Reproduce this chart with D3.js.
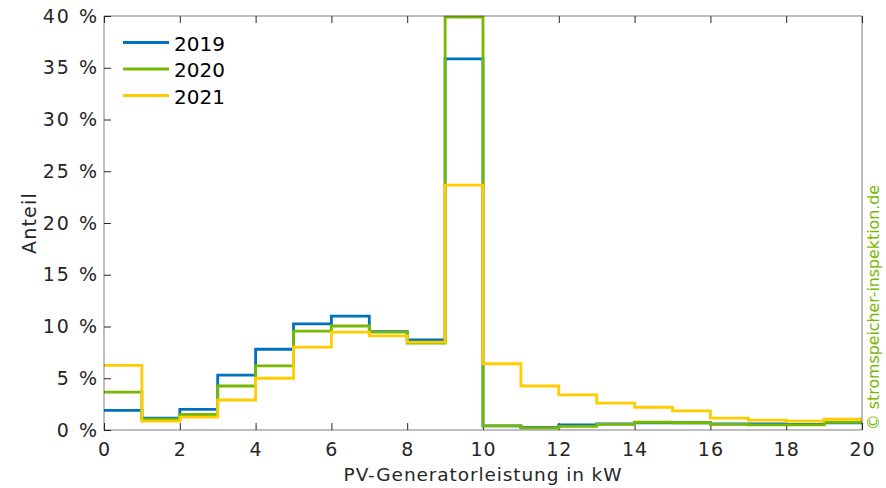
<!DOCTYPE html>
<html>
<head>
<meta charset="utf-8">
<script src="https://cdn.jsdelivr.net/npm/d3@7"></script>
<style>
  body { margin: 0; background: #fff; }
  svg text { font-family: "DejaVu Sans", Verdana, sans-serif; }
</style>
</head>
<body>
<svg id="chart" width="886" height="488"></svg>
<script>
// bin starts in kW (1 kW bins from 0 to 20)
var bins = d3.range(0, 20);
var years = ["2019", "2020", "2021"];
var colors = ["#0072BD", "#77B900", "#FFCC00"];

// share in % per bin
var v2019 = [1.9, 1.15, 2.0, 5.3, 7.8, 10.25, 11.0, 9.5, 8.7, 35.85,
             0.4, 0.25, 0.5, 0.6, 0.7, 0.7, 0.6, 0.6, 0.55, 0.7];
var v2020 = [3.65, 1.05, 1.5, 4.25, 6.2, 9.55, 10.05, 9.45, 8.4, 39.9,
             0.4, 0.2, 0.35, 0.55, 0.75, 0.7, 0.55, 0.5, 0.5, 0.75];
var v2021 = [6.25, 0.85, 1.25, 2.9, 5.0, 8.0, 9.45, 9.1, 8.5, 23.65,
             6.4, 4.25, 3.4, 2.6, 2.2, 1.85, 1.15, 0.95, 0.85, 1.05];
var series = [v2019, v2020, v2021];

var xTicks = d3.range(0, 21, 2);
var yTicks = d3.range(0, 41, 5);

var dim = { left: 104, right: 862, top: 16, bottom: 430 };
var svg = d3.select("#chart");

var xScale = d3.scaleLinear().domain([0, 20]).range([dim.left, dim.right]);
var yScale = d3.scaleLinear().domain([0, 40]).range([dim.bottom, dim.top]);

// axes (box with inward ticks)
var axisColor = "#262626";
function styleAxis(g) {
  g.select(".domain").remove();
  g.selectAll(".tick line").attr("stroke", axisColor);
  g.selectAll(".tick text").attr("fill", axisColor)
   .style("font-size", "19px").style("letter-spacing", "1px");
}
svg.append("g")
   .attr("transform", "translate(0," + dim.bottom + ")")
   .call(d3.axisBottom(xScale).tickValues(xTicks).tickSizeInner(-7).tickSizeOuter(0).tickPadding(13))
   .call(styleAxis);
svg.append("g")
   .attr("transform", "translate(0," + dim.top + ")")
   .call(d3.axisTop(xScale).tickValues(xTicks).tickSizeInner(-7).tickSizeOuter(0).tickFormat(""))
   .call(styleAxis);
var yAxis = svg.append("g")
   .attr("transform", "translate(" + dim.left + ",0)")
   .call(d3.axisLeft(yScale).tickValues(yTicks).tickSizeInner(-7).tickSizeOuter(0).tickPadding(5)
           .tickFormat(function(d) { return d + " %"; }))
   .call(styleAxis);
yAxis.selectAll(".tick text").style("letter-spacing", "2px");

// step lines
var line = d3.line()
             .x(function(d) { return xScale(d[0]); })
             .y(function(d) { return yScale(d[1]); })
             .curve(d3.curveStepAfter);
series.forEach(function(vals, i) {
  var pts = bins.map(function(b, j) { return [b, vals[j]]; });
  pts.push([20, vals[vals.length - 1]]);
  svg.append("path")
     .attr("d", line(pts))
     .attr("fill", "none")
     .attr("stroke", colors[i])
     .attr("stroke-width", 2.8);
});

// box
svg.append("rect")
   .attr("x", dim.left).attr("y", dim.top)
   .attr("width", dim.right - dim.left).attr("height", dim.bottom - dim.top)
   .attr("fill", "none").attr("stroke", axisColor).attr("stroke-width", 0.8)
   .attr("stroke-opacity", 0.75);

// legend
var legend = svg.append("g");
years.forEach(function(y, i) {
  var ly = 42.5 + i * 26.5;
  legend.append("line")
        .attr("x1", 123).attr("x2", 169).attr("y1", ly).attr("y2", ly)
        .attr("stroke", colors[i]).attr("stroke-width", 2.8);
  legend.append("text")
        .attr("x", 174).attr("y", ly + 8)
        .style("font-size", "20px").attr("fill", "#000")
        .text(y);
});

// axis labels
svg.append("text")
   .attr("x", (dim.left + dim.right) / 2).attr("y", 481)
   .attr("text-anchor", "middle").attr("fill", axisColor)
   .style("font-size", "18.5px").style("letter-spacing", "0.9px")
   .text("PV-Generatorleistung in kW");
svg.append("text")
   .attr("transform", "translate(36," + (dim.top + dim.bottom) / 2 + ") rotate(-90)")
   .attr("text-anchor", "middle").attr("fill", axisColor)
   .style("font-size", "19px").style("letter-spacing", "1.2px")
   .text("Anteil");

// watermark
svg.append("text")
   .attr("transform", "translate(879,430) rotate(-90)")
   .attr("text-anchor", "start").attr("fill", "#77B900")
   .style("font-size", "15.8px")
   .text("© stromspeicher-inspektion.de");
</script>
</body>
</html>
